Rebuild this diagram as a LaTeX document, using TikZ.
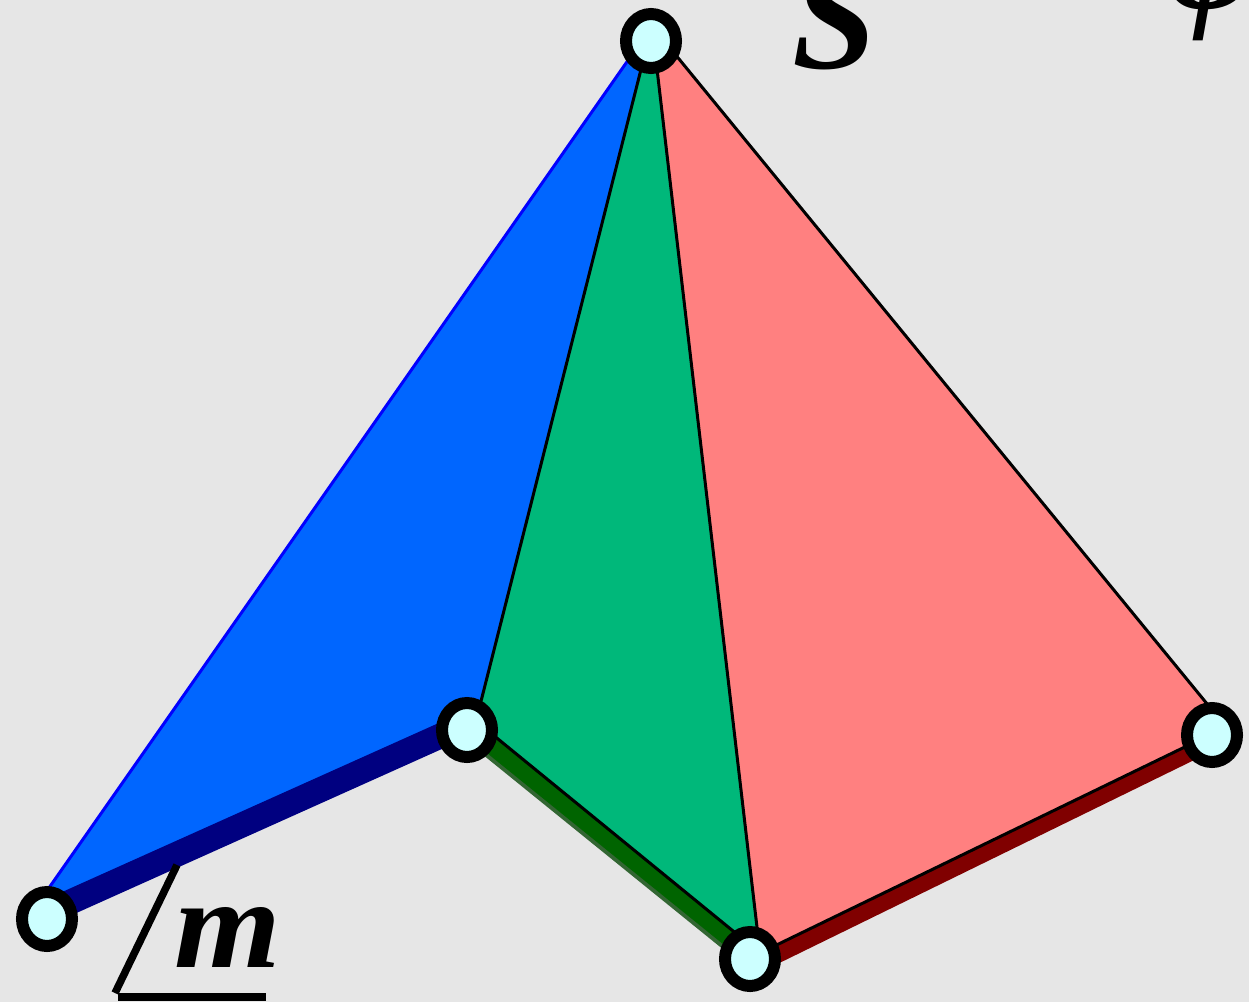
\documentclass[tikz,border=0pt]{standalone}
\usepackage{fontspec}
\usepackage{graphicx}
\setmainfont{Liberation Serif}
\usetikzlibrary{shapes.geometric}
\definecolor{bgc}{HTML}{E6E6E6}
\definecolor{bluef}{HTML}{0066FF}
\definecolor{greenf}{HTML}{00B87A}
\definecolor{pinkf}{HTML}{FF8080}
\definecolor{blueb}{HTML}{000080}
\definecolor{greenb}{HTML}{006400}
\definecolor{greens}{HTML}{336633}
\definecolor{redb}{HTML}{800000}
\definecolor{vert}{HTML}{CCFFFF}
\tikzset{
  vertexnode/.style={ellipse,draw=black,fill=vert,line width=12pt,minimum width=50pt,minimum height=54pt,inner sep=0pt},
  edgeline/.style={draw=black,line width=3pt,line join=miter},
  bigtext/.style={inner sep=0pt,anchor=base west,font=\fontsize{137}{137}\selectfont\bfseries\itshape},
  hugetext/.style={inner sep=0pt,anchor=base west,font=\fontsize{152}{152}\selectfont\bfseries\itshape},
  band/.style={line width=#1,line cap=butt}
}
\begin{document}
\begin{tikzpicture}[x=1pt,y=-1pt]
\useasboundingbox (0,0) rectangle (1249,1002);
\clip (0,0) rectangle (1249,1002);
\fill[bgc] (0,0) rectangle (1249,1002);
% face corners
\coordinate (T) at (652,26);
\coordinate (BL) at (37,905);
\coordinate (BMb) at (467,735);
\coordinate (BM) at (476,721);
\coordinate (GB) at (760,953);
\coordinate (PR) at (1226,727);
% band centre lines
\coordinate (bl1) at (47,912.5);
\coordinate (bl2) at (467,724);
\coordinate (gs1) at (467,728.4);
\coordinate (gs2) at (750,957.6);
\coordinate (gd1) at (467,725.9);
\coordinate (gd2) at (750,955);
\coordinate (rb1) at (760,963);
\coordinate (rb2) at (1226,735);
% angle
\coordinate (ang1) at (177,865);
\coordinate (ang2) at (115,993);
\coordinate (ang3) at (118,997);
\coordinate (ang4) at (266,997);
% faces and bands
\fill[bluef] (T) -- (BL) -- (BMb) -- (BM) -- cycle;
\draw[blue,line width=3pt] (T) -- (BL);
\draw[blueb,band=25pt] (bl1) -- (bl2);
\draw[greens,band=21pt] (gs1) -- (gs2);
\draw[greenb,band=17pt] (gd1) -- (gd2);
\draw[redb,band=17pt] (rb1) -- (rb2);
\fill[greenf] (T) -- (BM) -- (GB) -- cycle;
\fill[pinkf] (T) -- (GB) -- (PR) -- cycle;
\draw[edgeline] (T) -- (BM) -- (GB) -- (T) -- (PR) -- (GB);
% angle sign
\draw[black,line width=7.5pt] (ang1) -- (ang2);
\draw[black,line width=8pt] (ang3) -- (ang4);
% vertices
\node[vertexnode] (vl) at (47,919) {};
\node[vertexnode] (vm) at (467,730) {};
\node[vertexnode] (vb) at (750,959) {};
\node[vertexnode] (vr) at (1212,735) {};
\node[vertexnode] (vt) at (651,41) {};
% labels
\node[bigtext] (m) at (174,967) {\scalebox{1}[.93]{m}};
\node[hugetext] (s) at (792,68) {S};
\node[hugetext] (p) at (1167,8) {φ};
\end{tikzpicture}
\end{document}
